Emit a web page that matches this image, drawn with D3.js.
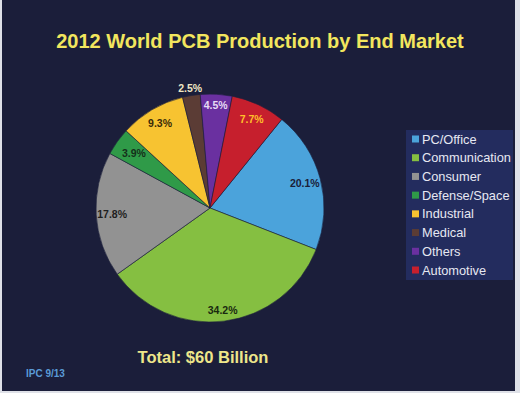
<!DOCTYPE html>
<html><head><meta charset="utf-8">
<script src="https://cdn.jsdelivr.net/npm/d3@7"></script>
<style>html,body{margin:0;padding:0;background:#dfe1e8;}svg{display:block;}</style>
</head><body>
<script>
const categories = ["PC/Office","Communication","Consumer","Defense/Space","Industrial","Medical","Others","Automotive"];
const values = [20.1,34.2,17.8,3.9,9.3,2.5,4.5,7.7];
const labels = ["20.1%","34.2%","17.8%","3.9%","9.3%","2.5%","4.5%","7.7%"];
const colors = ["#4ba3db","#85bf41","#929292","#2f9a48","#f7c331","#5b3c35","#6a30a0","#c61f2d"];
const labelColors = ["#1a2038","#1a2a10","#1e1e1e","#15301a","#3a2c08","#efe6c4","#e6dcf5","#ffbf2a"];
const title = "2012 World PCB Production by End Market";
const totalText = "Total: $60 Billion";
const sourceText = "IPC 9/13";

const W=520,H=393;
const svg=d3.select("body").append("svg").attr("width",W).attr("height",H);
svg.append("rect").attr("x",0).attr("y",0).attr("width",W).attr("height",H).attr("fill","#dfe1e8");
svg.append("rect").attr("x",2).attr("y",0).attr("width",513).attr("height",391).attr("fill","#1b1e3a");

svg.append("text").attr("x",260).attr("y",48).attr("text-anchor","middle")
  .attr("font-family","Liberation Sans, Arial, sans-serif").attr("font-weight","bold")
  .attr("font-size",20).attr("fill","#f2e65e").text(title);

const cx=210, cy=208, R=114;
const startDeg=39;
const pie=d3.pie().sort(null).value(d=>d)
  .startAngle(startDeg*Math.PI/180).endAngle((startDeg+360)*Math.PI/180);
const arcs=pie(values);
const arc=d3.arc().innerRadius(0).outerRadius(R);
const g=svg.append("g").attr("transform",`translate(${cx},${cy})`);
g.selectAll("path").data(arcs).enter().append("path")
  .attr("d",arc).attr("fill",(d,i)=>colors[i]).attr("stroke","#1b1e3a").attr("stroke-width",0.6);

// label radii (fraction of R) per slice
const labelR=[0.86,0.90,0.86,0.82,0.86,1.06,0.90,0.86];
g.selectAll("text.lbl").data(arcs).enter().append("text").attr("class","lbl")
  .attr("transform",(d,i)=>{const a=(d.startAngle+d.endAngle)/2; const r=R*labelR[i];
     return `translate(${r*Math.sin(a)},${-r*Math.cos(a)})`;})
  .attr("text-anchor","middle").attr("dy","0.35em")
  .attr("font-family","Liberation Sans, Arial, sans-serif").attr("font-weight","bold")
  .attr("font-size",10.5).attr("fill",(d,i)=>labelColors[i]).text((d,i)=>labels[i]);

// legend
const lg=svg.append("g");
lg.append("rect").attr("x",406).attr("y",130).attr("width",107).attr("height",150).attr("fill","#232c5e");
const ly=d3.scalePoint().domain(categories).range([139,270]);
categories.forEach((c,i)=>{
  lg.append("rect").attr("x",412).attr("y",ly(c)-3.5).attr("width",7).attr("height",7).attr("fill",colors[i]);
  lg.append("text").attr("x",422).attr("y",ly(c)).attr("dy","0.36em")
    .attr("font-family","Liberation Sans, Arial, sans-serif").attr("font-size",12.8)
    .attr("fill","#e6e8f2").text(c);
});

svg.append("text").attr("x",203).attr("y",363).attr("text-anchor","middle")
  .attr("font-family","Liberation Sans, Arial, sans-serif").attr("font-weight","bold")
  .attr("font-size",16.5).attr("fill","#eee68a").text(totalText);
svg.append("text").attr("x",26).attr("y",377)
  .attr("font-family","Liberation Sans, Arial, sans-serif").attr("font-weight","bold")
  .attr("font-size",10).attr("fill","#5a9ad6").text(sourceText);
</script>
</body></html>
